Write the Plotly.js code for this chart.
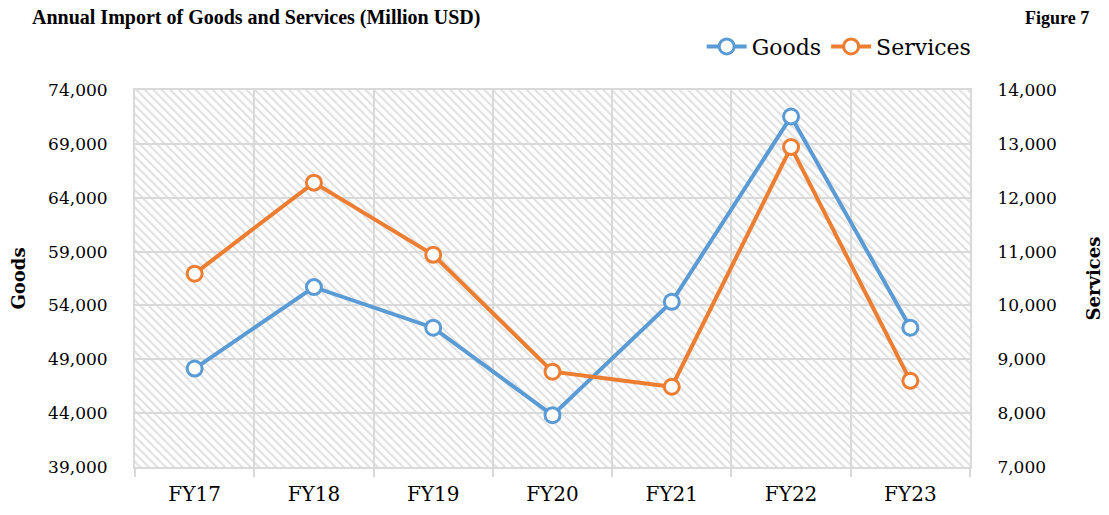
<!DOCTYPE html>
<html>
<head>
<meta charset="utf-8">
<script src="https://cdn.plot.ly/plotly-3.0.1.min.js"></script>
<style>html,body{margin:0;padding:0;background:#fff;}#chart{width:1109px;height:515px;}</style>
</head>
<body>
<div id="chart"></div>
<script>
const categories = ["FY17", "FY18", "FY19", "FY20", "FY21", "FY22", "FY23"];
const goods = [48140, 55700, 51930, 43810, 54340, 71530, 51930];
const services = [10590, 12280, 10940, 8770, 8490, 12940, 8600];
const goodsTicks = [39000, 44000, 49000, 54000, 59000, 64000, 69000, 74000];
const servicesTicks = [7000, 8000, 9000, 10000, 11000, 12000, 13000, 14000];

const FONT = "DejaVu Serif, Liberation Serif, serif";
const TFONT = "Liberation Serif, DejaVu Serif, serif";
const BLUE = "#5B9BD5", ORANGE = "#ED7D31", GRID = "#D9D9D9";

const svg = "<svg xmlns='http://www.w3.org/2000/svg' width='835' height='377'>" +
  "<defs><pattern id='p' width='6' height='6' patternUnits='userSpaceOnUse' patternTransform='rotate(-45)'>" +
  "<rect width='6' height='6' fill='white'/><rect x='0' y='0' width='2.2' height='6' fill='#e2e2e2'/></pattern></defs>" +
  "<rect width='835' height='377' fill='url(#p)'/></svg>";
const hatch = "data:image/svg+xml;charset=utf-8," + encodeURIComponent(svg);

const fmt = v => v.toLocaleString("en-US");

const traces = [
  {
    x: categories, y: goods, name: "Goods", type: "scatter", mode: "lines+markers",
    line: {color: BLUE, width: 4},
    marker: {symbol: "circle", size: 15, color: "#fff", line: {color: BLUE, width: 3}},
    yaxis: "y", cliponaxis: false
  },
  {
    x: categories, y: services, name: "Services", type: "scatter", mode: "lines+markers",
    line: {color: ORANGE, width: 4},
    marker: {symbol: "circle", size: 15, color: "#fff", line: {color: ORANGE, width: 3}},
    yaxis: "y2", cliponaxis: false
  }
];

const layout = {
  width: 1109, height: 515,
  margin: {l: 135, r: 139, t: 90, b: 48},
  paper_bgcolor: "#fff", plot_bgcolor: "rgba(0,0,0,0)",
  font: {family: FONT, color: "#000", size: 17},
  showlegend: true,
  legend: {orientation: "h", x: 1.008, xanchor: "right", y: 1.115, yanchor: "middle",
           font: {family: FONT, size: 22, color: "#000"}, bgcolor: "rgba(0,0,0,0)",
           traceorder: "normal", itemwidth: 40},
  xaxis: {
    type: "category", range: [-0.5, 6.5], tickson: "boundaries",
    showgrid: true, gridcolor: GRID, gridwidth: 2,
    ticks: "outside", ticklen: 8, tickcolor: GRID, tickwidth: 2,
    showline: true, linecolor: GRID, linewidth: 2, mirror: true,
    ticklabelstandoff: 8,
    tickfont: {family: FONT, size: 20, color: "#000"},
    fixedrange: true
  },
  yaxis: {
    range: [39000, 74000], tickvals: goodsTicks, ticktext: goodsTicks.map(fmt),
    showgrid: true, gridcolor: GRID, gridwidth: 2, zeroline: false,
    showline: true, linecolor: GRID, linewidth: 2,
    ticks: "", ticklabelstandoff: 22,
    tickfont: {family: FONT, size: 17, color: "#000"},
    title: {text: "<b>Goods</b>", font: {family: FONT, size: 18, color: "#000"}, standoff: 18},
    fixedrange: true
  },
  yaxis2: {
    overlaying: "y", side: "right",
    range: [7000, 14000], tickvals: servicesTicks, ticktext: servicesTicks.map(fmt),
    showgrid: false, zeroline: false,
    showline: true, linecolor: GRID, linewidth: 2,
    ticks: "", ticklabelstandoff: 22,
    tickfont: {family: FONT, size: 17, color: "#000"},
    title: {text: "<b>Services</b>", font: {family: FONT, size: 18, color: "#000"}, standoff: 32},
    fixedrange: true
  },
  images: [{source: hatch, xref: "paper", yref: "paper", x: 0, y: 1, sizex: 1, sizey: 1,
            xanchor: "left", yanchor: "top", sizing: "stretch", layer: "below"}],
  annotations: [
    {text: "<b>Annual Import of Goods and Services (Million USD)</b>", xref: "paper", yref: "paper",
     x: -0.1257, y: 1.191, xanchor: "left", yanchor: "middle", showarrow: false,
     font: {family: TFONT, size: 20, color: "#000"}},
    {text: "<b>Figure 7</b>", xref: "paper", yref: "paper",
     x: 1.145, y: 1.191, xanchor: "right", yanchor: "middle", showarrow: false,
     font: {family: TFONT, size: 18, color: "#000"}}
  ]
};

Plotly.newPlot("chart", traces, layout, {displayModeBar: false, staticPlot: true});
</script>
</body>
</html>
